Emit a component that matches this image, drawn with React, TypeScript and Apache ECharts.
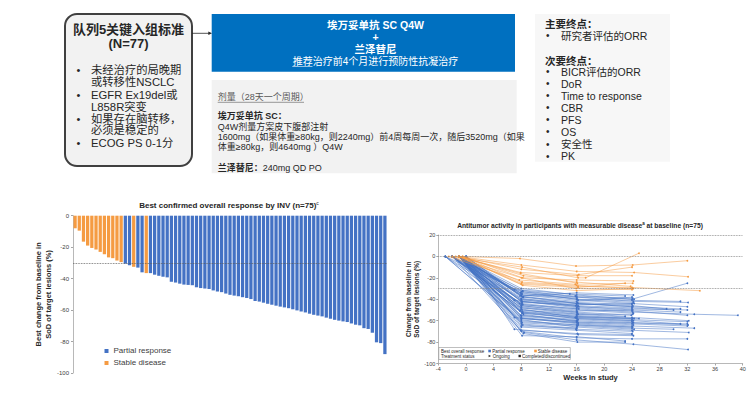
import React, { useEffect, useRef } from "react";
import * as echarts from "echarts";

const FONT = '"Liberation Sans", Arial, "Noto Sans CJK SC", sans-serif';

// ---------------- top panel texts ----------------
const criteriaTitle = ["队列5关键入组标准", "(N=77)"];
const criteriaBullets = [
  ["未经治疗的局晚期", "或转移性NSCLC"],
  ["EGFR Ex19del或", "L858R突变"],
  ["如果存在脑转移，", "必须是稳定的"],
  ["ECOG PS 0-1分"],
];
const regimenLines = ["埃万妥单抗 SC Q4W", "+", "兰泽替尼"];
const regimenNote = "推荐治疗前4个月进行预防性抗凝治疗";
const doseHeader = "剂量（28天一个周期）";
const doseDrug1 = "埃万妥单抗 SC：";
const doseLines = [
  "Q4W剂量方案皮下腹部注射",
  "1600mg（如果体重≥80kg，则2240mg）前4周每周一次，随后3520mg（如果",
  "体重≥80kg，则4640mg ）Q4W",
];
const doseDrug2 = "兰泽替尼：";
const doseDrug2Text = "240mg QD PO";
const primaryTitle = "主要终点：";
const primaryEndpoints = ["研究者评估的ORR"];
const secondaryTitle = "次要终点：";
const secondaryEndpoints = ["BICR评估的ORR", "DoR", "Time to response", "CBR", "PFS", "OS", "安全性", "PK"];

// ---------------- waterfall data ----------------
const waterfallTitle = "Best confirmed overall response by INV (n=75)";
const waterfallValues = [
  -8, -9.5, -16.5, -19, -20.5, -21.5, -23, -24.5, -26.5, -27, -28.5, -29.5,
  -30.5, -31.5, -32.5, -33, -36, -36.5, -36.5, -37.5, -38.2, -38.8, -39.2,
  -42, -42.5, -43.2, -43.8, -44, -44.2, -45.5, -46, -46.3, -46.6, -47.5, -48.2, -48.6, -49.5,
  -50.3, -50.8, -51.2, -51.8, -52.3, -53, -54.2, -54.6, -55.3, -56, -56.6, -57.2, -57.8, -58.3,
  -58.8, -59.5, -60.2, -60.9, -61.5, -62.3, -63, -63.5, -64, -64.8, -65.5, -66.2, -66.7, -67.2, -67.6,
  -68.5, -69.3, -69.7, -71.5, -72, -74.4, -80.5, -81, -88,
];
const waterfallResponse = waterfallValues.map((_, i) =>
  i <= 11 || i === 14 || i === 17 ? "SD" : "PR"
);
const waterfallYRange = { min: -100, max: 0, interval: 20 };
const legendNames = ["Partial response", "Stable disease"];

// ---------------- spider data ----------------
const spiderTitle = "Antitumor activity in participants with measurable disease";
const spiderXRange = { min: -4, max: 40, interval: 4 };
const spiderYRange = { min: -100, max: 20, interval: 20 };
const spiderRefLines = [20, 0, -30];
const spiderSD = [
  [[-1, 0], [7.8, -2], [15.9, -9], [24.1, -8], [32, -4]],
  [[-2, 0], [8.1, -10], [16.2, -20], [17.3, -20], [25, 3]],
  [[-1, 0], [8, -8], [16, -14], [24.3, -15], [32.1, -19]],
  [[-1.5, 0], [7.9, -15], [16.1, -18], [24, -18]],
  [[-0.5, 0], [8.2, -20], [16, -22], [24.2, -23]],
  [[-1, 0], [8, -12], [16.3, -17], [24, -10]],
  [[-2.5, 0], [7.7, -22], [15.8, -26], [24.1, -25]],
  [[-1, 0], [8.3, -18], [16, -24], [23.8, -28]],
  [[-1, 0], [8, -25], [16.2, -28], [24, -29], [33.8, -32]],
  [[-0.5, 0], [8.1, -24], [16, -27], [24.2, -30]],
  [[-1, 0], [7.9, -16], [16.1, -25]],
  [[-2, 0], [8, -20], [15.9, -30], [24, -31]],
  [[-1, 0], [8.2, -27], [16, -32], [24.1, -30]],
  [[-1, 0], [8, -26], [16.2, -29], [23, -25]],
];
const spiderPR = [
  [[-1, 0], [8, -30], [16, -36], [24, -40], [32, -25]],
  [[-2, 0], [8.2, -32], [16, -38], [24.2, -42], [32.1, -43]],
  [[-1, 0], [7.9, -34], [16.1, -40], [24, -41], [31, -42]],
  [[-3, 0], [8, -33], [15.8, -37], [24.1, -39]],
  [[-1, 0], [8.1, -35], [16, -38], [24.3, -40]],
  [[-2, 0], [7, -31], [15, -35], [23, -37]],
  [[-1, 0], [8, -36], [16.2, -41], [24, -44], [32, -47]],
  [[-1, 0], [8.3, -38], [16, -44], [24.1, -47], [31, -49]],
  [[-2, 0], [8, -40], [16.1, -43], [24, -45]],
  [[0, 0], [7.8, -37], [16, -34], [24.2, -36]],
  [[-1, 0], [8, -42], [16.3, -47], [24, -50]],
  [[-3, 0], [8.1, -44], [16, -49], [24.1, -52], [33, -54], [39.3, -55]],
  [[-1, 0], [8, -39], [15.9, -46], [24, -48], [30, -50]],
  [[-2, 0], [8.2, -45], [16, -50], [24.2, -53]],
  [[-1, 0], [7, -41], [16, -48], [24, -51], [32, -55]],
  [[-1, 0], [8, -46], [16.1, -52], [23.9, -55]],
  [[0, 0], [8.1, -43], [16, -45], [24.3, -44]],
  [[-2, 0], [8, -48], [16.2, -54], [24, -57], [32.2, -60]],
  [[-1, 0], [7.9, -50], [16, -55], [24.1, -58]],
  [[-1, 0], [8, -47], [16.1, -53], [23, -56]],
  [[-3, 0], [8.2, -52], [16, -56], [24, -59], [32, -61]],
  [[-1, 0], [8, -49], [15.8, -57], [24.2, -60], [31, -63]],
  [[-2, 0], [8.1, -53], [16, -58], [24, -61]],
  [[-1, 0], [8, -55], [16.2, -59], [24.1, -62], [32.1, -64]],
  [[0, 0], [7.8, -51], [16, -56], [25, -58]],
  [[-1, 0], [8, -56], [16, -60], [24, -63], [32, -65]],
  [[-2, 0], [8.3, -54], [16.1, -61], [24.2, -64]],
  [[-1, 0], [8, -58], [16, -62], [24, -65], [33, -67]],
  [[-1, 0], [7, -57], [16.2, -63], [24.1, -66]],
  [[-3, 0], [8, -60], [16, -64], [24, -67], [30, -68]],
  [[-1, 0], [8.1, -62], [16.1, -65], [24.3, -68]],
  [[-2, 0], [8, -59], [16, -66], [24, -69], [32.2, -71]],
  [[-1, 0], [8.2, -64], [15.9, -68], [24.1, -70]],
  [[-1, 0], [8, -66], [16, -69], [24, -72]],
  [[0, 0], [7, -68], [16.2, -73], [24.2, -74]],
  [[-1, 0], [8, -70], [16, -76], [24, -77], [32, -77]],
  [[-2, 0], [8.3, -72], [16.1, -80], [23, -80]],
  [[-1, 0], [8.4, -71], [16, -78], [24.2, -82], [32.1, -87]],
  [[-1, 0], [8, -36], [16, -39]],
  [[-1, 0], [8.1, -42], [16.2, -46]],
  [[-2, 0], [8, -48], [16, -52]],
  [[-1, 0], [7.9, -55], [16.1, -60]],
  [[-1, 0], [8, -63], [16, -67]],
  [[0, 0], [8.2, -38], [16, -42], [24, -38]],
  [[-1, 0], [8, -45], [16.3, -49]],
  [[-2, 0], [8.1, -50], [16, -54], [24.1, -54]],
  [[-1, 0], [8, -58], [16, -61]],
  [[-1, 0], [8, -35]],
  [[-1, 0], [7.8, -44]],
  [[-3, 0], [8, -61], [16.2, -64], [24, -66]],
  [[-1, 0], [8.2, -33], [16, -40], [24.2, -43]],
  [[-1, 0], [8, -40], [16.1, -47], [24, -49], [32, -50]],
  [[-2, 0], [8, -46], [16, -51], [24.1, -50], [31, -52]],
  [[-1, 0], [8.1, -52], [16, -58], [24, -60]],
  [[-1, 0], [8, -57], [16.2, -62], [24.2, -62], [32, -63]],
  [[0, 0], [8, -65], [16, -67]],
  [[-1, 0], [7.9, -69], [16.1, -72], [24, -73]],
  [[-2, 0], [8, -41], [16, -44], [24.1, -46], [29, -49]],
  [[-1, 0], [8.2, -53], [16, -57], [24.3, -58]],
  [[-1, 0], [8, -37], [16.2, -44], [24, -47]],
  [[-1, 0], [8.1, -74], [16, -75], [23, -79]],
];
const spiderLegendRows = [
  ["Best overall response", "Partial response", "Stable disease"],
  ["Treatment status", "Ongoing", "Completed/discontinued"],
];

const BLUE = "#4472C4";
const ORANGE = "#F59B42";
const BOXBLUE = "#0070C0";

function T(text: string, x: number, y: number, size: number, o: any = {}) {
  const align = o.align || "left";
  return {
    type: "text",
    silent: true,
    z: o.z || 10,
    style: {
      text,
      x,
      y,
      fontSize: size,
      fontFamily: FONT,
      fontWeight: o.bold ? "bold" : "normal",
      fill: o.color || "#262626",
      align,
      textAlign: align,
      verticalAlign: "middle",
      textVerticalAlign: "middle",
      rich: o.rich,
    },
  };
}

function buildGraphics() {
  const g: any[] = [];
  // left criteria box
  g.push({ type: "rect", silent: true, shape: { x: 65, y: 14, width: 127, height: 152, r: 12 }, style: { fill: "#F2F2F2", stroke: "#404040", lineWidth: 2 } });
  g.push(T(criteriaTitle[0], 128.5, 29.5, 13, { bold: true, align: "center" }));
  g.push(T(criteriaTitle[1], 128.5, 43.5, 13, { bold: true, align: "center" }));
  const bulletTops = [70, 95, 118.5, 143.3];
  criteriaBullets.forEach((lines, k) => {
    g.push(T("•", 76.5, bulletTops[k], 11));
    lines.forEach((ln, j) => g.push(T(ln, 91, bulletTops[k] + j * 11.6, 11.3)));
  });
  // arrow
  g.push({ type: "line", silent: true, shape: { x1: 192, y1: 33.3, x2: 209, y2: 33.3 }, style: { stroke: "#262626", lineWidth: 0.8 } });
  g.push({ type: "polygon", silent: true, shape: { points: [[212, 33.3], [208.3, 31.5], [208.3, 35.1]] }, style: { fill: "#262626" } });
  // blue regimen box
  g.push({ type: "rect", silent: true, shape: { x: 211.7, y: 14, width: 303.3, height: 57.7 }, style: { fill: BOXBLUE } });
  g.push(T(regimenLines[0], 375.5, 25, 10.5, { bold: true, align: "center", color: "#fff" }));
  g.push(T(regimenLines[1], 375.5, 36.7, 10.5, { bold: true, align: "center", color: "#fff" }));
  g.push(T(regimenLines[2], 375.5, 49.3, 10.5, { bold: true, align: "center", color: "#fff" }));
  g.push(T(regimenNote, 375.5, 61, 10, { align: "center", color: "#fff" }));
  g.push({ type: "line", silent: true, z: 11, shape: { x1: 292.3, y1: 66.5, x2: 312.5, y2: 66.5 }, style: { stroke: "#fff", lineWidth: 0.6 } });
  // dose box
  g.push({ type: "rect", silent: true, shape: { x: 211.7, y: 80, width: 305, height: 93.3 }, style: { fill: "#F2F2F2" } });
  g.push(T(doseHeader, 217.7, 97.3, 9, { color: "#595959" }));
  g.push({ type: "line", silent: true, z: 11, shape: { x1: 217.7, y1: 102.3, x2: 304, y2: 102.3 }, style: { stroke: "#595959", lineWidth: 0.6 } });
  g.push(T(doseDrug1, 217.7, 116, 9, { bold: true }));
  doseLines.forEach((ln, j) => g.push(T(ln, 217.7, 126.7 + j * 10.3, 9)));
  g.push(T("{b|" + doseDrug2 + "}" + doseDrug2Text, 217.7, 168.3, 9, { rich: { b: { fontWeight: "bold", fontSize: 9, fontFamily: FONT, fill: "#262626" } } }));
  // endpoints box
  g.push({ type: "rect", silent: true, shape: { x: 535, y: 14, width: 135, height: 147.7 }, style: { fill: "#F7F7F7" } });
  g.push(T(primaryTitle, 545, 24, 10.5, { bold: true }));
  primaryEndpoints.forEach((t, j) => {
    g.push(T("•", 546, 35.7 + j * 12, 10));
    g.push(T(t, 561, 35.7 + j * 12, 10.5));
  });
  g.push(T(secondaryTitle, 545, 60.7, 10.5, { bold: true }));
  secondaryEndpoints.forEach((t, j) => {
    g.push(T("•", 546, 71.7 + j * 12.05, 10));
    g.push(T(t, 561, 71.7 + j * 12.05, 10.5));
  });
  // chart titles
  g.push(T("{m|" + waterfallTitle + "}{s|c}", 229, 205, 8, {
    align: "center",
    rich: { m: { fontSize: 8, fontWeight: "bold", fontFamily: FONT, fill: "#262626" }, s: { fontSize: 5, fontFamily: FONT, fill: "#262626", padding: [0, 0, 5, 0] } },
  }));
  g.push(T("{m|" + spiderTitle + "}{s|a}{m| at baseline (n=75)}", 580, 225, 6.7, {
    align: "center",
    rich: { m: { fontSize: 6.7, fontWeight: "bold", fontFamily: FONT, fill: "#262626" }, s: { fontSize: 4.5, fontWeight: "bold", fontFamily: FONT, fill: "#262626", padding: [0, 0, 4, 0] } },
  }));
  // spider legend box
  g.push({ type: "rect", silent: true, z: 20, shape: { x: 438.8, y: 347.5, width: 131.5, height: 12 }, style: { fill: "#fff", stroke: "#7F7F7F", lineWidth: 0.5 } });
  const rowY = [351, 356];
  const fs = 4.5;
  g.push(T(spiderLegendRows[0][0], 441, rowY[0], fs, { z: 21 }));
  g.push({ type: "rect", silent: true, z: 21, shape: { x: 488.3, y: rowY[0] - 1.3, width: 2.6, height: 2.6 }, style: { fill: BLUE } });
  g.push(T(spiderLegendRows[0][1], 492.3, rowY[0], fs, { z: 21 }));
  g.push({ type: "rect", silent: true, z: 21, shape: { x: 534.2, y: rowY[0] - 1.3, width: 2.6, height: 2.6 }, style: { fill: ORANGE } });
  g.push(T(spiderLegendRows[0][2], 537.8, rowY[0], fs, { z: 21 }));
  g.push(T(spiderLegendRows[1][0], 441, rowY[1], fs, { z: 21 }));
  g.push({ type: "polygon", silent: true, z: 21, shape: { points: [[491, rowY[1]], [488.6, rowY[1] - 1.3], [488.6, rowY[1] + 1.3]] }, style: { fill: "#262626" } });
  g.push(T(spiderLegendRows[1][1], 492.8, rowY[1], fs, { z: 21 }));
  g.push({ type: "rect", silent: true, z: 21, shape: { x: 518.5, y: rowY[1] - 1.2, width: 2.4, height: 2.4 }, style: { fill: "#262626" } });
  g.push(T(spiderLegendRows[1][2], 522, rowY[1], fs, { z: 21 }));
  return g;
}

function buildOption() {
  const spiderSeries: any[] = [];
  const mk = (pts: number[][], color: string, name: string, idx: number) => ({
    type: "line",
    name,
    xAxisIndex: 1,
    yAxisIndex: 1,
    data: pts,
    symbol: "circle",
    symbolSize: 1.8,
    showSymbol: true,
    silent: true,
    z: idx,
    lineStyle: { width: 0.6, color, opacity: 0.85 },
    itemStyle: { color },
    emphasis: { disabled: true },
  });
  spiderPR.forEach((p, i) => spiderSeries.push(mk(p, BLUE, "PR-" + i, 2)));
  spiderSD.forEach((p, i) => spiderSeries.push(mk(p, ORANGE, "SD-" + i, 3)));
  spiderSeries[0].markLine = {
    silent: true,
    symbol: ["none", "none"],
    label: { show: false },
    lineStyle: { type: "dotted", color: "#7F7F7F", width: 0.8 },
    data: spiderRefLines.map((v) => ({ yAxis: v })),
  };

  const axisColor = "#A6A6A6";
  return {
    animation: false,
    backgroundColor: "#fff",
    textStyle: { fontFamily: FONT },
    graphic: buildGraphics(),
    legend: {
      data: legendNames,
      orient: "vertical",
      left: 99.5,
      top: 342,
      itemWidth: 4,
      itemHeight: 4,
      itemGap: 4,
      icon: "rect",
      selectedMode: false,
      textStyle: { fontSize: 8, color: "#404040", fontFamily: FONT },
    },
    grid: [
      { left: 73, top: 215.7, width: 314, height: 157.3 },
      { left: 438.3, top: 235, width: 304.4, height: 128.5 },
    ],
    xAxis: [
      { type: "category", gridIndex: 0, data: waterfallValues.map((_, i) => String(i + 1)), show: false },
      {
        type: "value", gridIndex: 1, ...spiderXRange,
        axisLine: { show: true, onZero: false, lineStyle: { color: axisColor, width: 0.8 } },
        axisTick: { show: true, length: 2, lineStyle: { color: axisColor } },
        axisLabel: { fontSize: 5.5, color: "#404040", margin: 3 },
        splitLine: { show: false },
        name: "Weeks in study", nameLocation: "middle", nameGap: 10,
        nameTextStyle: { fontSize: 7.5, fontWeight: "bold", color: "#262626", verticalAlign: "top" },
      },
    ],
    yAxis: [
      {
        type: "value", gridIndex: 0, ...waterfallYRange,
        axisLine: { show: true, lineStyle: { color: axisColor, width: 0.8 } },
        axisTick: { show: true, length: 2, lineStyle: { color: axisColor } },
        axisLabel: { fontSize: 6, color: "#404040", margin: 4 },
        splitLine: { show: false },
        name: "Best change from baseline in\nSoD of target lesions (%)",
        nameLocation: "middle", nameGap: 14, nameRotate: 90,
        nameTextStyle: { fontSize: 7.5, fontWeight: "bold", lineHeight: 10, color: "#262626" },
      },
      {
        type: "value", gridIndex: 1, ...spiderYRange,
        axisLine: { show: true, onZero: false, lineStyle: { color: axisColor, width: 0.8 } },
        axisTick: { show: true, length: 2, lineStyle: { color: axisColor } },
        axisLabel: { fontSize: 5.5, color: "#404040", margin: 3 },
        splitLine: { show: false },
        name: "Change from baseline in\nSoD of target lesions (%)",
        nameLocation: "middle", nameGap: 12, nameRotate: 90,
        nameTextStyle: { fontSize: 6.5, fontWeight: "bold", lineHeight: 8, color: "#262626" },
      },
    ],
    series: [
      {
        type: "bar", name: legendNames[0], xAxisIndex: 0, yAxisIndex: 0,
        data: waterfallValues.map((v, i) => (waterfallResponse[i] === "PR" ? v : "-")),
        barCategoryGap: "22%", barGap: "-100%",
        itemStyle: { color: BLUE }, silent: true,
        markLine: {
          silent: true, symbol: ["none", "none"], label: { show: false },
          lineStyle: { type: "dotted", color: "#595959", width: 0.8 },
          data: [{ yAxis: -30 }],
        },
      },
      {
        type: "bar", name: legendNames[1], xAxisIndex: 0, yAxisIndex: 0,
        data: waterfallValues.map((v, i) => (waterfallResponse[i] === "SD" ? v : "-")),
        barCategoryGap: "22%", barGap: "-100%",
        itemStyle: { color: ORANGE }, silent: true,
      },
      ...spiderSeries,
    ],
  };
}

export default function App() {
  const ref = useRef<HTMLDivElement>(null);
  useEffect(() => {
    if (!ref.current) return;
    const chart = echarts.init(ref.current, undefined, { renderer: "svg" });
    chart.setOption(buildOption() as any);
    return () => chart.dispose();
  }, []);
  return (
    <div
      ref={ref}
      style={{ position: "fixed", left: 0, top: 0, width: 753, height: 407, background: "#fff" }}
    />
  );
}
